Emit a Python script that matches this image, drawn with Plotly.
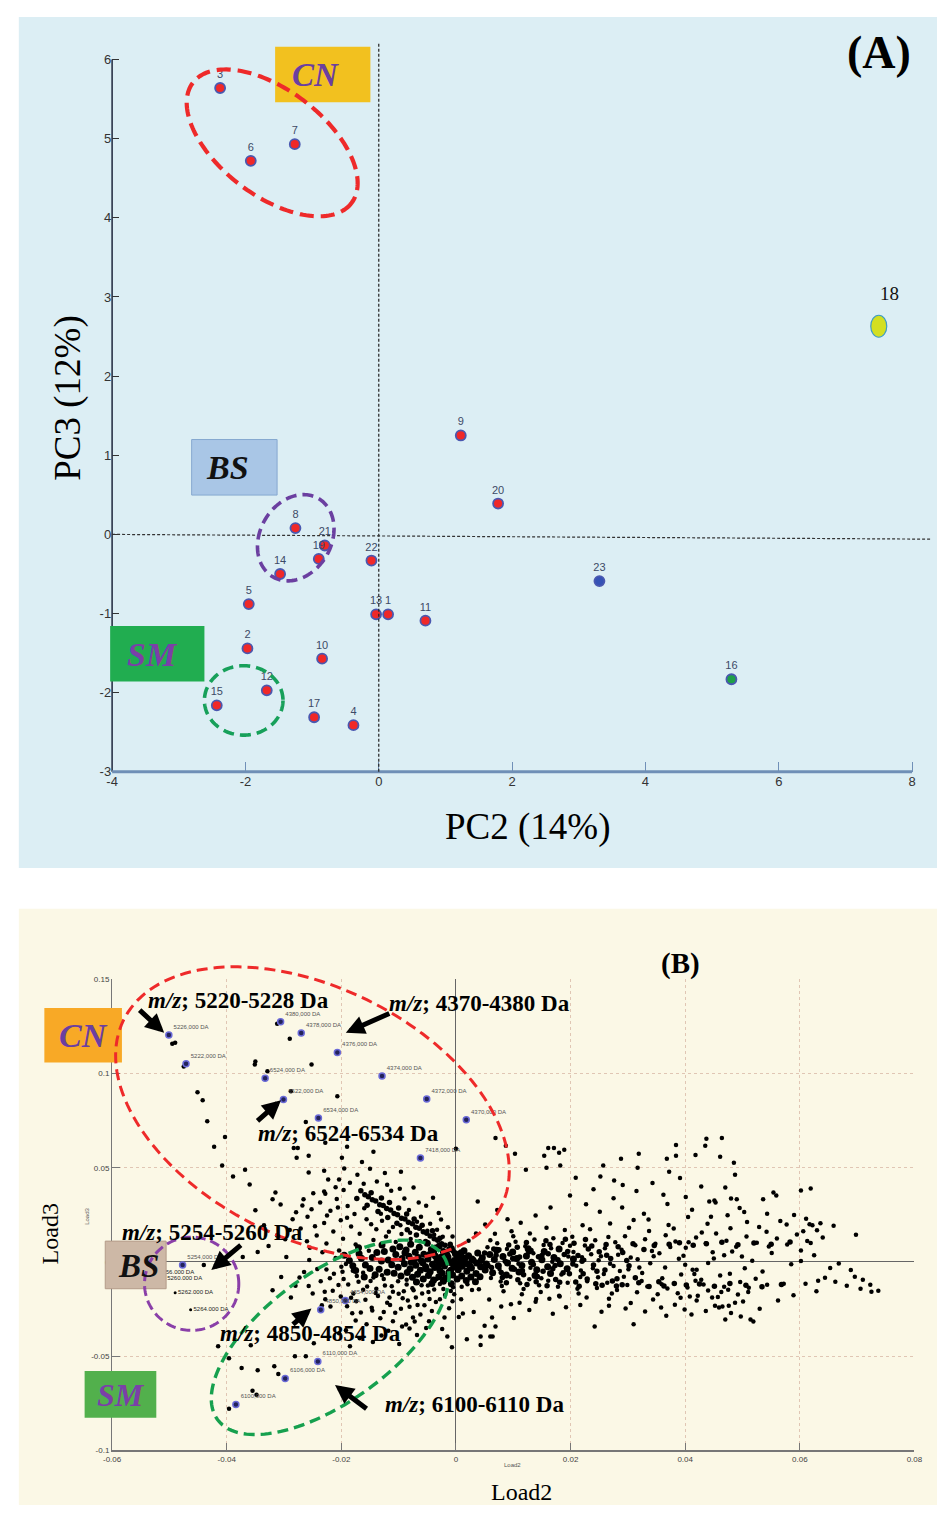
import math
import plotly.graph_objects as go

W, H = 945, 1513

# ---------------- Panel A: PCA scores (PC2 vs PC3) ----------------
sample_ids = list(range(1, 24))
pc2 = [0.14, -1.97, -2.38, -0.38, -1.95, -1.92, -1.26, -1.25, 1.23, -0.85, 0.70, -1.68,
       -0.04, -1.48, -2.43, 5.29, -0.97, 7.50, -0.90, 1.79, -0.81, -0.11, 3.31]
pc3 = [-1.01, -1.44, 5.64, -2.41, -0.88, 4.72, 4.93, 0.08, 1.25, -1.57, -1.09, -1.97,
       -1.01, -0.50, -2.16, -1.83, -2.31, 2.63, -0.31, 0.39, -0.14, -0.33, -0.59]
special_fill = {23: "#3552b5", 16: "#1fa048"}
outlier_id = 18

pcx_ticks = [-4, -2, 0, 2, 4, 6, 8]
pcy_ticks = [-3, -2, -1, 0, 1, 2, 3, 4, 5, 6]

# ---------------- Panel B: loadings (Load2 vs Load3), values x 1e-3 ----------------
core_pts = [
    (-9.8, 8.1), (-8.7, 6.3), (-7.9, 9.4), (-7.1, 5.2), (-6.4, 7.8), (-5.6, 4.1), (-5.0, 9.9), (-4.3, 6.6),
    (-3.6, 3.2), (-2.9, 8.4), (-2.2, 5.5), (-1.4, 2.6), (-0.8, 7.1), (-0.1, 4.4), (0.7, 1.9), (1.4, 6.0),
    (2.2, 3.3), (3.0, 0.9), (3.8, 4.8), (4.6, 2.2), (-10.5, 3.9), (-9.4, 1.8), (-8.2, 3.0), (-7.4, 0.6),
    (-6.6, 2.4), (-5.8, -0.4), (-4.9, 1.5), (-4.1, -1.2), (-3.3, 0.9), (-2.5, -0.7), (-1.8, 1.2), (-1.0, -0.3),
    (-0.3, 0.8), (0.5, -1.4), (1.2, 0.3), (2.0, -0.9), (2.8, 1.6), (3.6, -0.5), (4.4, 0.7), (5.3, -1.1),
    (-11.2, -1.5), (-10.1, -2.8), (-9.0, -0.9), (-8.0, -3.6), (-7.0, -1.8), (-6.2, -4.4), (-5.3, -2.5),
    (-4.5, -5.2), (-3.7, -3.0), (-2.8, -4.6), (-2.0, -2.1), (-1.2, -5.3), (-0.4, -2.7), (0.4, -4.1),
    (1.1, -2.3), (1.9, -5.0), (2.7, -3.2), (3.5, -6.1), (4.3, -2.6), (5.1, -4.3), (-10.8, -6.0), (-9.6, -7.4),
    (-8.5, -5.6), (-7.6, -8.1), (-6.7, -6.5), (-5.7, -9.0), (-4.8, -7.2), (-3.9, -9.6), (-3.0, -7.8),
    (-2.2, -10.2), (-1.5, -8.3), (-0.6, -6.9), (0.2, -9.1), (1.0, -7.5), (1.8, -9.8), (2.6, -8.0),
    (3.4, -10.5), (4.2, -7.9), (-12.5, 5.6), (-11.8, 1.0), (-13.4, -3.9), (-12.9, 9.0), (-14.6, 2.3),
    (-15.8, -1.6), (-14.1, -6.8), (-16.9, 4.4), (-17.5, -4.5), (-18.6, 0.7), (5.9, 3.9), (6.7, 1.3),
    (7.4, -2.0), (8.2, 2.9), (9.0, -0.6), (9.8, -3.4), (10.6, 1.8), (11.5, -1.9), (12.3, 3.1), (13.2, -0.2),
    (14.1, -4.1), (15.0, 1.1), (16.0, -2.5), (17.1, 2.4), (18.2, -0.9), (19.4, -3.6), (20.5, 1.5),
    (6.4, -5.8), (8.8, -6.9), (11.0, -5.4), (13.8, -7.2), (16.5, -6.1), (7.1, 6.2), (9.9, 5.3), (12.6, 7.0),
    (15.4, 5.6), (18.0, 6.9), (-6.0, 0.5), (-4.6, 3.9), (-3.1, -1.9), (-1.6, 4.0), (0.0, -0.8), (1.6, 2.1),
    (-5.2, -3.7), (-2.6, 2.5), (-0.9, -4.4), (0.9, 4.9), (-7.8, -0.2), (-8.9, 4.9), (-3.9, 5.3), (-2.4, -6.0),
    (0.3, 3.0), (2.4, -2.0), (-1.9, -9.0), (-6.9, -10.6), (-4.2, -11.4), (-0.8, -11.6),
    (-18.0, -2.0), (-16.5, 2.0), (-15.0, -3.5), (-13.8, 5.0), (-12.0, -5.5), (-11.0, 6.8), (-13.0, 0.5),
    (-16.0, -8.0), (-19.5, 3.5), (-17.0, 7.5),
]
band_pts = [
    (5.0, 4.8), (6.2, -2.9), (7.0, 3.6), (7.9, -5.6), (8.6, 0.4), (9.4, 4.2), (10.2, -3.9), (11.1, 2.6),
    (11.8, -6.8), (12.7, 5.3), (13.5, -1.4), (14.4, 2.8), (15.2, -5.0), (16.1, 4.4), (16.9, -3.6),
    (17.8, 1.1), (18.7, -5.7), (19.5, 5.6), (20.4, -1.1), (21.3, 3.4), (22.2, -6.2), (23.1, 6.9),
    (24.0, -1.6), (25.0, 5.4), (26.0, -4.3), (27.0, 1.8), (28.1, -8.9), (29.1, 5.0), (30.2, -2.0),
    (31.3, -8.4), (5.6, -1.9), (6.6, 6.8), (8.1, -8.3), (9.2, 9.0), (10.8, -9.5), (12.3, 10.3),
    (14.0, -10.5), (15.7, 11.2), (17.4, -9.3), (19.1, 12.0), (20.9, -10.6), (22.6, 11.9), (24.4, -11.6),
    (26.2, 9.2), (28.0, -12.8),
    (7.5, 6.5), (8.8, -11.0), (9.9, 1.8), (10.7, 7.8), (11.6, -4.7), (12.4, -12.0), (13.1, 6.1),
    (14.2, -7.7), (15.0, 3.4), (15.9, -12.6), (16.4, 9.3), (17.3, -1.9), (18.1, -10.8), (18.9, 3.9),
    (19.8, -6.3), (20.6, 9.9), (21.5, -12.9), (22.0, 0.4), (22.9, -9.0), (23.7, 8.5), (24.6, -4.9),
    (25.5, -12.4), (26.3, 3.6), (27.3, -10.1), (28.3, 8.1), (29.0, -12.1), (29.8, 0.8), (30.9, 9.7),
    (31.9, -11.0), (32.8, 6.6), (33.7, -13.0), (34.6, 8.7), (35.4, -10.5), (36.3, -12.7), (37.2, 9.4),
    (38.1, -11.4), (39.0, 10.2), (40.2, -12.2), (41.4, 8.9), (42.5, -11.7), (43.7, 9.6), (45.1, -12.9),
    (46.4, 10.4), (47.8, -11.5), (49.2, 9.1), (50.6, -12.4), (52.0, 10.0), (53.4, -13.2), (55.0, 9.4),
    (56.8, -12.0), (58.3, 10.6),
]
streak_pts = [
    (-0.5, 5.8), (-1.2, 6.9), (-1.9, 8.9), (-2.5, 9.6), (-3.2, 11.5), (-3.8, 12.3), (-4.5, 13.8), (-5.1, 15.2),
    (-5.7, 16.0), (-6.4, 17.9), (-7.0, 18.4), (-7.6, 20.3), (-8.3, 21.0), (-8.9, 22.8), (-9.5, 23.2),
    (-10.2, 25.1), (-10.8, 25.7), (-11.4, 27.6), (-12.1, 28.3), (-12.7, 29.9), (-13.3, 30.4), (-14.0, 32.3),
    (-14.6, 33.0), (-15.3, 34.6), (-15.9, 35.7), (-16.6, 37.8), (-1.0, 9.4), (-2.8, 12.6), (-4.1, 16.5),
    (-5.9, 19.4), (-7.3, 22.8), (-8.6, 25.4), (-10.0, 28.6), (-11.6, 31.5), (-13.0, 33.9), (-14.8, 36.7),
    (-2.0, 4.1), (-3.6, 7.8), (-5.3, 10.9), (-6.9, 14.3), (-8.5, 17.1), (-10.3, 20.5), (-11.9, 23.6),
    (-13.6, 26.8), (-15.5, 30.1), (-17.3, 33.6),
]
upper_left_pts = [
    (-18.5, 42.0), (-17.2, 46.3), (-19.6, 38.1), (-16.1, 41.5), (-20.8, 33.4), (-18.9, 29.7), (-21.9, 27.2),
    (-17.7, 25.4), (-20.1, 22.1), (-23.0, 20.6), (-15.6, 22.6), (-18.3, 18.8), (-21.4, 16.1), (-24.3, 14.0),
    (-16.8, 15.0), (-19.7, 12.3), (-13.9, 17.3), (-22.6, 9.8), (-17.5, 9.2), (-14.4, 11.7), (-12.2, 13.5),
    (-25.5, 7.5), (-20.4, 6.1), (-15.2, 5.9), (-11.0, 18.5), (-9.5, 14.8), (-7.9, 12.2), (-6.3, 11.0),
    (-12.9, 21.8), (-10.5, 10.6), (-23.7, 31.6), (-25.9, 24.0), (-27.1, 17.7), (-8.2, 27.5), (-6.1, 24.0),
    (-4.5, 20.2), (-3.3, 17.1), (-5.2, 29.8), (-2.6, 22.5), (-11.3, 37.8), (-9.0, 33.6), (-13.8, 42.7),
    (-7.4, 39.5), (-22.3, 43.8), (-15.0, 49.5), (-12.4, 47.2), (-24.9, 36.5), (-26.8, 30.0), (-28.5, 22.6),
    (-29.8, 12.1), (-32.0, 33.2), (-26.6, 33.2), (-20.6, 28.9), (-29.6, 2.6), (-19.2, -1.1), (-18.0, -4.7),
    (-37.2, 2.6), (-34.6, 5.3), (-32.7, 8.4), (-44.0, -1.6),
    (-3.0, 26.0), (-1.4, 18.4), (-0.6, 13.5), (-4.0, 34.0), (-6.5, 31.5), (-9.8, 38.8), (-12.0, 41.0),
    (-16.4, 53.0), (-19.5, 49.6), (-21.0, 39.6), (-22.8, 36.2), (-25.2, 28.0), (-27.9, 26.4), (-29.0, 17.0),
    (-31.2, 14.0), (-33.5, 19.5), (-35.0, 27.4), (-30.6, 30.5), (-13.1, 25.6), (-11.7, 16.0), (-9.7, 19.4),
    (-8.0, 15.5), (-6.8, 21.3), (-5.0, 16.6), (-3.8, 14.4), (-2.3, 13.4), (-16.0, 28.5), (-14.8, 20.0),
    (-19.0, 23.5), (-22.5, 24.6), (-24.6, 19.0), (-26.0, 11.0), (-23.3, 5.2), (-21.0, 2.1), (-25.6, 1.0),
    (-20.0, -2.6), (-22.6, -4.0),
]
lower_left_pts = [
    (-12.4, -12.5), (-14.9, -10.1), (-17.3, -7.4), (-19.8, -5.2), (-22.0, -8.6), (-11.0, -15.8),
    (-13.6, -18.1), (-16.2, -14.7), (-18.8, -12.0), (-21.5, -15.3), (-9.3, -19.2), (-12.0, -21.6),
    (-14.7, -24.3), (-17.4, -20.9), (-20.1, -18.4), (-7.6, -13.9), (-5.9, -16.8), (-3.8, -14.6),
    (-1.9, -17.5), (-0.5, -13.4), (-8.1, -23.8), (-10.6, -27.0), (-13.2, -29.9), (-6.2, -27.9),
    (-3.5, -21.2), (-1.2, -24.6), (0.9, -19.8), (2.8, -14.9), (-4.7, -31.4), (-8.7, -33.2), (-11.8, -36.5),
    (-2.4, -35.6), (0.5, -29.2), (3.1, -26.5), (5.0, -33.8), (6.4, -39.6), (-15.6, -33.0), (-18.1, -27.2),
    (-23.4, -23.0), (-25.7, -12.7), (-24.2, -3.8), (-27.3, -8.3), (-6.8, -38.7), (1.9, -41.0), (-0.7, -45.3),
    (4.3, -44.1), (-20.4, -37.8), (-9.9, -43.6), (-14.5, -42.5), (-28.8, -18.9), (-21.9, -23.7),
    (-17.5, -31.1), (-19.2, -36.3), (-16.8, -40.5), (-14.6, -25.8), (-9.4, -34.2), (-8.1, -35.3),
    (-7.2, -31.6), (4.3, -39.5), (6.0, -39.5), (6.9, -34.2), (1.2, -27.4),
    (-41.5, -44.7), (-39.6, -51.1), (-37.4, -56.3), (-34.6, -57.4), (-31.7, -55.3), (-31.0, -59.5),
    (-28.1, -50.0), (-26.2, -50.0), (-35.8, -44.2), (-24.8, -43.2), (-18.5, -44.7), (-35.5, -68.4),
    (-34.8, -70.5), (-39.6, -77.9),
    (-4.9, -12.5), (-6.7, -10.8), (-8.6, -12.0), (-10.1, -10.2), (-13.9, -14.2), (-11.6, -18.8),
    (-9.1, -15.5), (-7.0, -18.8), (-4.6, -19.6), (-2.8, -11.7), (-0.9, -15.4), (1.0, -13.2), (-15.8, -20.0),
    (-17.9, -16.8), (-19.6, -9.1), (-16.6, -26.8), (-12.6, -26.5), (-9.6, -24.8), (-6.7, -22.9),
    (-4.2, -26.0), (-2.0, -29.5), (-0.6, -20.8), (-11.0, -31.5), (-7.5, -29.5), (-5.2, -35.0),
    (-1.5, -39.5), (-13.0, -39.0), (-19.0, -23.5), (-22.8, -19.8),
    (-17.0, -10.5), (-15.5, -13.0), (-14.0, -16.5), (-12.6, -9.0), (-11.2, -12.9), (-10.0, -16.9),
    (-8.6, -9.4), (-7.4, -15.0), (-6.0, -12.4), (-4.8, -16.0), (-3.4, -9.0), (-2.2, -14.4), (-16.2, -5.8),
    (-14.4, -8.3), (-12.9, -7.0), (-20.5, -12.3), (-22.9, -15.8), (-18.3, -19.0), (-21.3, -6.2),
    (-23.6, -10.2), (-25.0, -16.7), (-26.5, -5.3), (-28.0, -12.6), (-30.5, -8.0), (-32.0, -15.0),
    (-11.5, -22.8), (-8.4, -20.5), (-5.5, -23.0), (-2.8, -19.8), (-0.3, -17.2),
]
right_pts = [
    (5.5, 7.8), (7.2, 9.9), (8.9, 6.8), (10.4, 10.7), (12.1, 8.3), (13.7, 11.9), (15.3, 9.0), (17.0, 12.6),
    (18.6, 10.1), (20.3, 13.4), (6.1, -8.5), (7.8, -10.4), (9.5, -7.9), (11.2, -11.3), (12.8, -9.2),
    (14.5, -12.4), (16.1, -10.0), (17.8, -13.1), (19.5, -11.0), (21.2, -14.2), (6.8, 14.9), (9.7, 16.3),
    (12.9, 15.1), (15.8, 18.2), (19.0, 17.0), (22.1, 19.5), (8.3, -15.6), (11.5, -17.1), (14.8, -15.9),
    (18.1, -18.4), (21.4, -16.7), (22.5, 8.7), (24.3, 11.5), (26.0, 7.2), (27.8, 10.4), (29.5, 13.6),
    (31.3, 8.9), (33.0, 12.1), (34.8, 9.6), (36.6, 14.2), (38.3, 10.8), (40.1, 7.5), (41.9, 12.9),
    (43.6, 9.9), (45.4, 15.1), (47.2, 11.3), (48.9, 8.1), (50.7, 13.5), (52.5, 10.2), (54.2, 16.0),
    (56.0, 12.4), (57.8, 9.3), (59.5, 14.6), (61.3, 11.1), (63.0, 16.8), (23.4, 17.3), (26.9, 20.4),
    (30.2, 18.1), (33.6, 22.5), (37.1, 19.6), (40.5, 23.9), (43.9, 20.3), (47.4, 24.8), (50.8, 21.2),
    (54.3, 25.6), (57.7, 19.8), (61.1, 22.9), (25.1, 26.6), (29.0, 28.9), (32.8, 25.5), (36.9, 30.8),
    (41.2, 27.7), (45.3, 31.5), (49.5, 28.6), (53.6, 33.2), (35.5, 4.6), (39.7, 3.3), (44.8, 5.2),
    (49.9, 2.9), (55.1, 4.8), (60.2, 6.1), (22.0, 2.5), (24.9, 0.9), (28.3, 3.8), (31.7, 1.4), (27.5, -2.2),
    (33.9, -0.7), (40.0, -1.5), (22.9, -10.2), (24.6, -13.8), (26.4, -11.1), (28.1, -14.9), (29.9, -12.3),
    (31.6, -16.1), (33.4, -13.0), (35.2, -17.2), (36.9, -14.1), (38.7, -16.6), (40.4, -13.5), (42.2, -17.9),
    (44.0, -15.2), (45.7, -18.6), (47.5, -14.7), (49.2, -17.3), (51.0, -15.9), (25.8, -6.4), (29.3, -7.9),
    (32.5, -5.9), (36.0, -8.7), (39.3, -6.6), (42.8, -9.4), (46.1, -7.2), (26.7, -19.5), (30.5, -21.8),
    (34.4, -19.9), (38.2, -22.7), (42.0, -20.5), (46.5, -23.6), (50.1, -21.0),
    (61.9, 10.0), (61.7, 20.0), (63.6, 20.5), (62.2, 19.5), (60.2, 0.5), (65.3, -3.2), (63.2, -10.0),
    (64.4, -8.4), (66.2, -10.5), (68.2, -12.6), (69.6, -7.9), (70.6, -14.2), (72.3, -12.1), (72.5, -15.8),
    (73.7, -15.3), (61.0, -11.6), (57.2, -11.6), (54.3, -12.1), (52.3, -8.9), (60.2, 37.9), (61.9, 38.9),
    (55.4, 36.8), (55.9, 35.3), (51.1, -13.7), (51.4, -30.5), (51.9, -31.6), (49.7, -28.9), (48.7, -21.6),
    (47.6, -23.2), (47.0, -30.5), (45.9, -24.2), (45.2, -23.2), (44.7, -18.9), (46.8, -13.2), (47.8, -6.3),
    (41.1, -27.9), (41.8, -10.0), (42.0, -4.2), (40.8, -18.4), (35.8, -24.2), (26.7, -23.2), (22.8, -18.9),
    (18.0, -17.9), (16.3, -19.5), (13.9, -21.1), (11.1, -21.6), (7.9, -23.7), (6.3, -29.5),
    (20.5, 5.3), (21.8, -4.6), (23.6, 4.1), (24.8, -8.1), (26.6, 13.2), (27.2, -16.8), (28.9, 6.5),
    (30.1, -3.9), (31.0, 22.3), (32.4, -10.1), (33.7, 16.4), (34.5, 3.0), (35.9, -11.8), (37.4, 7.9),
    (38.0, 17.8), (39.2, -19.0), (40.6, 10.5), (41.3, -4.2), (42.9, 15.6), (43.2, -12.0), (44.5, 24.0),
    (45.0, 1.8), (46.3, -16.0), (47.9, 17.9), (48.2, 5.6), (49.6, -10.6), (50.3, 26.5), (51.7, 0.6),
    (52.9, 18.5), (53.5, -5.1), (54.6, 8.2), (56.6, 21.7), (58.5, -1.2), (59.0, 24.9), (60.6, 16.3),
    (62.5, 3.6), (64.0, 12.9), (65.9, 19.2), (66.8, -0.8), (68.9, -4.3), (69.8, 14.4), (71.0, -9.4),
    (62.9, -15.6), (58.9, -17.7), (56.2, -20.4), (53.0, -24.9), (48.0, -27.1), (43.6, -26.0), (39.9, -25.2),
    (36.7, -28.5), (33.0, -26.3), (29.6, -24.7), (25.4, -26.4), (21.7, -22.9), (19.2, -24.1), (16.9, -27.5),
    (12.8, -25.5), (10.1, -29.8), (24.2, -34.2), (31.0, -33.0), (22.7, 30.6), (27.5, 33.8), (31.5, 37.7),
    (36.2, 35.6), (40.1, 34.4), (34.3, 41.9), (39.1, 44.5), (29.1, 40.8), (24.0, 38.6), (19.9, 35.2),
    (16.5, 28.9), (13.9, 24.6), (11.3, 20.8), (9.0, 22.7), (7.2, 27.6), (5.1, 19.9), (3.5, 15.1),
    (2.2, 11.3), (4.0, -14.5), (2.0, -11.8), (5.8, -19.9), (9.6, -22.4), (14.0, -19.6),
    (21.0, -2.0), (22.4, 1.0), (23.9, -3.3), (25.3, 3.0), (26.9, -0.9), (28.6, -4.8), (30.5, 2.3),
    (32.0, -2.9), (34.2, 5.8), (36.5, -3.0), (38.9, 1.7), (41.6, -6.4), (44.0, -0.6), (46.8, 3.6),
    (50.4, -3.4), (6.0, 11.5), (8.0, -12.7), (10.0, 13.6), (11.8, -14.4), (13.5, 4.6), (14.9, -8.6),
    (16.6, 7.2), (18.4, -6.7), (19.9, 8.6), (21.7, -8.0), (7.6, -3.7), (10.9, -1.0), (13.0, -3.1),
    (16.8, 0.1), (19.6, 2.9),
]
outer_pts = [
    (6.9, 65.8), (8.7, 61.6), (10.3, 57.4), (12.2, 48.9), (15.4, 56.3), (16.1, 60.5), (17.1, 60.5),
    (18.0, 57.9), (18.9, 59.5), (15.8, 50.0), (18.2, 51.1), (20.9, 44.7), (25.2, 45.3), (25.7, 51.1),
    (27.6, 43.2), (28.8, 54.7), (31.9, 57.4), (31.7, 50.0), (36.8, 54.7), (37.2, 47.9), (38.4, 62.1),
    (38.4, 56.3), (41.8, 56.8), (43.5, 61.6), (43.7, 65.3), (46.4, 65.8), (46.1, 55.8), (48.5, 52.6),
    (48.7, 46.3), (42.8, 40.0), (47.0, 39.5), (48.0, 33.7), (49.0, 33.2), (44.2, 32.1), (45.1, 32.6),
    (-49.5, 115.8), (-49.0, 116.3), (-47.5, 103.7), (-31.2, 126.3), (-29.0, 118.4), (-35.0, 106.3),
    (-35.1, 104.7), (-25.2, 104.7), (-32.9, 101.1), (-45.1, 90.0), (-44.2, 85.8), (-28.8, 90.5),
    (-20.7, 87.9), (-43.4, 74.7), (-40.3, 66.3), (-42.2, 61.1), (-26.2, 74.2), (-22.8, 63.2), (-28.3, 60.5),
    (-27.6, 60.5), (-27.8, 55.3), (-25.7, 56.3), (-19.0, 61.1), (-19.9, 55.3), (-14.4, 58.4), (-40.8, 51.1),
    (-36.8, 48.9), (-38.9, 45.3), (-36.0, 41.1), (-31.5, 36.8), (-25.7, 47.4), (-23.0, 48.4), (-23.0, 37.4),
    (-20.4, 43.7), (-9.6, 47.9), (0.0, 60.0), (3.8, 32.1),
]

# labelled m/z loadings (x 1e-3) and their tags
mz_labels = ["5226,000 DA", "5222,000 DA", "4380,000 DA", "4378,000 DA", "4376,000 DA", "4374,000 DA",
             "4372,000 DA", "4370,000 DA", "6524,000 DA", "6522,000 DA", "6534,000 DA", "7418,000 DA",
             "5254,000 DA", "4854,000 DA", "4850,000 DA", "6110,000 DA", "6106,000 DA", "6100,000 DA"]
mz_load2 = [-50.1, -47.1, -30.6, -27.0, -20.7, -12.9, -5.1, 1.8, -33.3, -30.1, -24.0, -6.2,
            -47.7, -19.3, -23.6, -24.1, -29.8, -38.4]
mz_load3 = [120.4, 105.1, 127.4, 121.4, 111.1, 98.6, 86.5, 75.4, 97.4, 86.2, 76.3, 55.1,
            -1.6, -20.5, -25.3, -52.8, -61.9, -75.6]
bs_labels = ["5256.000 DA", "5260.000 DA", "5262.000 DA", "5264.000 DA"]
bs_load2 = [-52.3, -50.9, -49.0, -46.3]
bs_load3 = [-5.8, -8.9, -16.3, -25.3]

ld2_ticks = [-0.06, -0.04, -0.02, 0, 0.02, 0.04, 0.06, 0.08]
ld2_text = ["-0.06", "-0.04", "-0.02", "0", "0.02", "0.04", "0.06", "0.08"]
ld3_ticks = [-0.1, -0.05, 0, 0.05, 0.1, 0.15]
ld3_text = ["-0.1", "-0.05", "0", "0.05", "0.1", "0.15"]

# ---------------- geometry helpers (page pixels -> paper fractions) ----------------
SERIF = "Liberation Serif"
SANS = "Liberation Sans"


def pxx(x):
    return x / W


def pxy(y):
    return 1 - y / H


A_XDOM = [pxx(105), pxx(940)]
A_XRNG = [-4, 8.3]
A_YDOM = [pxy(774), pxy(40)]
A_YRNG = [-3, 6.2]
B_XDOM = [pxx(105), pxx(922)]
B_XRNG = [-0.06, 0.08]
B_YDOM = [pxy(1458), pxy(983)]
B_YRNG = [-0.1, 0.15]


def dx(v, dom, rng):
    return dom[0] + (v - rng[0]) / (rng[1] - rng[0]) * (dom[1] - dom[0])


def ellipse_path(cx, cy, a, b, deg, n=160):
    th = math.radians(deg)
    pts = []
    for i in range(n + 1):
        t = 2 * math.pi * i / n
        x = cx + a * math.cos(t) * math.cos(th) - b * math.sin(t) * math.sin(th)
        y = cy + a * math.cos(t) * math.sin(th) + b * math.sin(t) * math.cos(th)
        pts.append(f"{pxx(x):.5f},{pxy(y):.5f}")
    return "M " + " L ".join(pts) + " Z"


fig = go.Figure()

# ---------------- Panel A traces ----------------
reg_x = [x for i, x in zip(sample_ids, pc2) if i != outlier_id]
reg_y = [y for i, y in zip(sample_ids, pc3) if i != outlier_id]
reg_id = [i for i in sample_ids if i != outlier_id]
fig.add_trace(go.Scatter(
    x=reg_x, y=reg_y, mode="markers+text", text=[str(i) for i in reg_id],
    textposition="top center",
    textfont=dict(family=SANS, size=11, color="#3d4a66"),
    marker=dict(size=10, color=[special_fill.get(i, "#f02828") for i in reg_id],
                line=dict(color="#4a58b0", width=1.8)),
    xaxis="x", yaxis="y", showlegend=False, cliponaxis=False))

o = sample_ids.index(outlier_id)


# ---------------- Panel B traces ----------------
def scatter_b(pts, size):
    fig.add_trace(go.Scatter(
        x=[p[0] / 1000 for p in pts], y=[p[1] / 1000 for p in pts], mode="markers",
        marker=dict(size=size, color="#000"), xaxis="x2", yaxis="y2", showlegend=False))


scatter_b(upper_left_pts + lower_left_pts + right_pts + outer_pts, 4.5)
scatter_b(streak_pts + band_pts, 5.5)
scatter_b(core_pts, 7)

fig.add_trace(go.Scatter(
    x=[v / 1000 for v in bs_load2], y=[v / 1000 for v in bs_load3], mode="markers+text",
    text=bs_labels, textposition="middle right",
    textfont=dict(family=SANS, size=6, color="#222"),
    marker=dict(size=3, color="#000"), xaxis="x2", yaxis="y2", showlegend=False))
fig.add_trace(go.Scatter(
    x=[v / 1000 for v in mz_load2], y=[v / 1000 for v in mz_load3], mode="markers+text",
    text=mz_labels, textposition="top right",
    textfont=dict(family=SANS, size=6, color="#555"),
    marker=dict(size=6, color="#23235a", line=dict(color="#6a6ad8", width=1.5)),
    xaxis="x2", yaxis="y2", showlegend=False, cliponaxis=False))

shapes = []
# panel backgrounds
shapes.append(dict(type="rect", xref="paper", yref="paper", x0=pxx(10), x1=1, y0=pxy(871), y1=pxy(13),
                   fillcolor="#dceef4", line=dict(width=0), layer="below"))
shapes.append(dict(type="rect", xref="paper", yref="paper", x0=pxx(10), x1=1, y0=0, y1=pxy(912),
                   fillcolor="#fbf8e6", line=dict(width=0), layer="below"))

# panel A axes and reference lines
ax_left = dx(-4, A_XDOM, A_XRNG)
ax_bot = dx(-3, A_YDOM, A_YRNG)
shapes.append(dict(type="line", xref="paper", yref="paper", x0=ax_left, x1=ax_left,
                   y0=ax_bot, y1=dx(6, A_YDOM, A_YRNG), line=dict(color="#2b3348", width=1.6)))
shapes.append(dict(type="line", xref="paper", yref="paper", x0=ax_left, x1=dx(8, A_XDOM, A_XRNG),
                   y0=ax_bot, y1=ax_bot, line=dict(color="#6f8fb6", width=3)))
shapes.append(dict(type="line", xref="paper", yref="paper", x0=dx(0, A_XDOM, A_XRNG),
                   x1=dx(0, A_XDOM, A_XRNG), y0=ax_bot, y1=A_YDOM[1],
                   line=dict(color="#222", width=1.2, dash="3px,2px")))
shapes.append(dict(type="line", xref="paper", yref="paper", x0=ax_left, x1=A_XDOM[1],
                   y0=dx(0, A_YDOM, A_YRNG), y1=dx(-0.06, A_YDOM, A_YRNG),
                   line=dict(color="#333", width=1.2, dash="3px,2px")))

# outlier sample drawn as an oval marker
shapes.append(dict(type="circle", xref="x", yref="y", xsizemode="pixel", ysizemode="pixel",
                   xanchor=pc2[o], yanchor=pc3[o], x0=-8, x1=8, y0=-11, y1=11,
                   fillcolor="#d3df22", line=dict(color="#3f9cc4", width=1.2)))

# group boxes (page pixels)
boxes = [
    (271, 43, 368, 99, "#f2c11f", "rgba(0,0,0,0)"),
    (186, 439, 273, 495, "#a9c6e6", "#86a8d0"),
    (103, 627, 199, 683, "#21ad50", "rgba(0,0,0,0)"),
    (36, 1012, 115, 1067, "#f8a926", "rgba(0,0,0,0)"),
    (98, 1247, 160, 1295, "#cdb8a6", "#b49c8a"),
    (77, 1378, 150, 1425, "#52b04c", "rgba(0,0,0,0)"),
]
for x0, y0, x1, y1, fc, lc in boxes:
    shapes.append(dict(type="rect", xref="paper", yref="paper", x0=pxx(x0), x1=pxx(x1),
                       y0=pxy(y1), y1=pxy(y0), fillcolor=fc, line=dict(color=lc, width=1),
                       layer="above"))

# group ellipses: centre, semi-axes, tilt (page pixels / degrees)
ellipses = [
    (268, 140, 101, 53.4, 36.7, "#ee2a2a", 4.2, "14px,7px"),
    (292, 538, 45.8, 36.2, -59, "#6b3fa0", 3.6, "11px,6px"),
    (239, 702, 40, 35, 0, "#17a05a", 3.6, "11px,6px"),
    (309, 1118, 214, 127, 25.8, "#ee2a2a", 3.0, "11px,6px"),
    (186, 1290, 48, 47, 0, "#8a3fa8", 3.0, "10px,5px"),
    (327, 1344, 141.5, 65, -35.7, "#16a04e", 3.4, "11px,6px"),
]
for cx, cy, a, b, deg, col, lw, dash in ellipses:
    shapes.append(dict(type="path", xref="paper", yref="paper", path=ellipse_path(cx, cy, a, b, deg),
                       line=dict(color=col, width=lw, dash=dash), layer="above"))

annotations = []


def text_at(x, y, txt, size, color="#000", family=SERIF, xanchor="center", angle=0):
    annotations.append(dict(xref="paper", yref="paper", x=pxx(x), y=pxy(y), text=txt,
                            showarrow=False, xanchor=xanchor, yanchor="middle", textangle=angle,
                            font=dict(family=family, size=size, color=color)))


# label of the outlier sample, above its oval
annotations.append(dict(xref="x", yref="y", x=pc2[o], y=pc3[o], text=str(outlier_id), showarrow=False,
                        xshift=11, yshift=33, font=dict(family=SERIF, size=19, color="#111")))

# panel A texts
text_at(886, 49, "<b>(A)</b>", 46)
text_at(528, 830, "PC2 (14%)", 37)
text_at(60, 397, "PC3 (12%)", 37, angle=-90)
text_at(312, 72, "<b><i>CN</i></b>", 33, color="#6b3fa0")
text_at(223, 467, "<b><i>BS</i></b>", 34, color="#111")
text_at(146, 656, "<b><i>SM</i></b>", 34, color="#7b3fa8")

# panel B texts
text_at(684, 967, "<b>(B)</b>", 29)
text_at(522, 1500, "Load2", 24)
text_at(42, 1240, "Load3", 24, angle=-90)
text_at(513, 1473, "Load2", 6, color="#555", family=SANS)
text_at(80, 1222, "Load3", 6, color="#555", family=SANS, angle=-90)
text_at(76, 1040, "<b><i>CN</i></b>", 34, color="#6b3fa0")
text_at(132, 1272, "<b><i>BS</i></b>", 33, color="#111")
text_at(114, 1402, "<b><i>SM</i></b>", 32, color="#7b3fa8")

mz_ranges = [("5220-5228", 140, 1004), ("4370-4380", 385, 1007), ("6524-6534", 252, 1139),
             ("5254-5260", 113, 1238), ("4850-4854", 213, 1340), ("6100-6110", 381, 1412)]
for rng, x, y in mz_ranges:
    text_at(x, y, f"<b><i>m/z</i>; {rng} Da</b>", 23, xanchor="left")

# arrows: (head_x, head_y, tail_x, tail_y) in page pixels
arrows = [(158, 1037, 132, 1013), (343, 1037, 388, 1017), (277, 1105, 252, 1127),
          (206, 1276, 237, 1250), (308, 1315, 288, 1332), (332, 1392, 365, 1417)]
for hx, hy, tx, ty in arrows:
    annotations.append(dict(xref="paper", yref="paper", x=pxx(hx), y=pxy(hy), ax=tx - hx, ay=ty - hy,
                            text="", showarrow=True, arrowhead=2, arrowsize=0.75, arrowwidth=5,
                            arrowcolor="#000", standoff=0, startstandoff=0))

fig.update_layout(
    width=W, height=H, margin=dict(l=0, r=0, t=0, b=0), autosize=False,
    paper_bgcolor="#ffffff", plot_bgcolor="rgba(0,0,0,0)",
    shapes=shapes, annotations=annotations,
    xaxis=dict(domain=A_XDOM, range=A_XRNG, tickvals=pcx_ticks, ticktext=[str(v) for v in pcx_ticks],
               ticks="inside", ticklen=10, tickwidth=1.4, tickcolor="#7090b8", showgrid=False,
               zeroline=False, showline=False, anchor="y",
               tickfont=dict(family=SANS, size=13, color="#333")),
    yaxis=dict(domain=A_YDOM, range=A_YRNG, tickvals=pcy_ticks, ticktext=[str(v) for v in pcy_ticks],
               ticks="inside", ticklen=7, tickwidth=1.4, tickcolor="#333", showgrid=False,
               zeroline=False, showline=False, anchor="x",
               tickfont=dict(family=SANS, size=13, color="#333")),
    xaxis2=dict(domain=B_XDOM, range=B_XRNG, tickvals=ld2_ticks, ticktext=ld2_text,
                ticks="inside", ticklen=8, tickcolor="#777", showgrid=True, gridcolor="#e0c6b4",
                griddash="dot", zeroline=True, zerolinecolor="#666", zerolinewidth=1,
                showline=True, linecolor="#777", linewidth=1.5, anchor="y2",
                tickfont=dict(family=SANS, size=8, color="#444")),
    yaxis2=dict(domain=B_YDOM, range=B_YRNG, tickvals=ld3_ticks, ticktext=ld3_text,
                ticks="inside", ticklen=8, tickcolor="#777", showgrid=True, gridcolor="#e0c6b4",
                griddash="dot", zeroline=True, zerolinecolor="#666", zerolinewidth=1,
                showline=True, linecolor="#777", linewidth=1.2, anchor="x2",
                tickfont=dict(family=SANS, size=8, color="#444")),
)

# keep the figure flush with the page's top-left corner
fig.write_html("out.html",
               post_script="document.body.style.margin='0px';document.body.style.overflow='hidden';")
